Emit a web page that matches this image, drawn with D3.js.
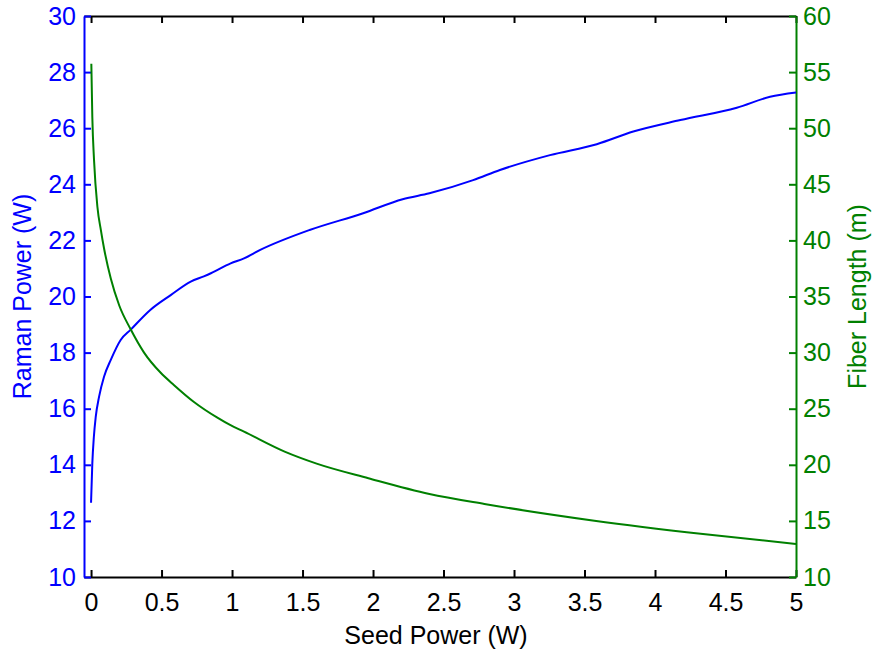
<!DOCTYPE html>
<html>
<head>
<meta charset="utf-8">
<script src="https://cdn.jsdelivr.net/npm/d3@7"></script>
<style>
  body { margin: 0; background: #fff; }
  text { font-family: "Liberation Sans", Arial, Helvetica, sans-serif; }
</style>
</head>
<body>
<svg id="chart" width="877" height="654"></svg>
<script>
// values
let seedRaman = [0.0, 0.009, 0.02, 0.033, 0.057, 0.092, 0.14, 0.21, 0.28, 0.42, 0.565, 0.707, 0.8, 0.85, 0.99, 1.085, 1.2, 1.55, 1.93, 2.21, 2.4, 2.71, 2.9, 3.255, 3.587, 3.846, 4.18, 4.58, 4.816, 5.0];
let ramanPower = [12.65, 14.05, 15.0, 15.7, 16.43, 17.14, 17.74, 18.45, 18.81, 19.52, 20.05, 20.53, 20.72, 20.83, 21.18, 21.36, 21.66, 22.37, 22.97, 23.47, 23.68, 24.15, 24.51, 25.04, 25.43, 25.88, 26.29, 26.73, 27.12, 27.27];

let seedFiber = [0.002, 0.009, 0.021, 0.045, 0.07, 0.092, 0.14, 0.2, 0.28, 0.376, 0.494, 0.589, 0.73, 0.896, 0.986, 1.085, 1.373, 1.6, 1.967, 2.4, 2.79, 3.57, 4.34, 5.0];
let fiberLength = [55.75, 51.0, 47.2, 43.0, 40.9, 39.3, 36.6, 34.2, 32.1, 30.0, 28.2, 27.1, 25.6, 24.2, 23.55, 22.95, 21.17, 20.1, 18.8, 17.4, 16.51, 15.02, 13.83, 12.95];

let xTicks = [0, 0.5, 1, 1.5, 2, 2.5, 3, 3.5, 4, 4.5, 5];
let leftTicks = [10, 12, 14, 16, 18, 20, 22, 24, 26, 28, 30];
let rightTicks = [10, 15, 20, 25, 30, 35, 40, 45, 50, 55, 60];

// layout
let margin = { top: 16, right: 81, bottom: 77, left: 84 };
let width = 877 - margin.left - margin.right;
let height = 654 - margin.top - margin.bottom;
let blue = '#0000ff';
let green = '#008000';
let fontSize = 25;
let tickLen = 7;

let svg = d3.select('#chart');
let g = svg.append('g').attr('transform', 'translate(' + margin.left + ',' + margin.top + ')');

let x = d3.scaleLinear().domain([-0.05, 5]).range([0, width]);
let yL = d3.scaleLinear().domain([10, 30]).range([height, 0]);
let yR = d3.scaleLinear().domain([10, 60]).range([height, 0]);

function styleAxis(sel, color) {
    sel.select('.domain').attr('stroke', color).attr('stroke-width', 2);
    sel.selectAll('.tick line').attr('stroke', color).attr('stroke-width', 2);
    sel.selectAll('.tick text')
        .attr('fill', color)
        .style('font-size', fontSize + 'px');
}

// x axis bottom
let xb = g.append('g').attr('transform', 'translate(0,' + height + ')')
    .call(d3.axisBottom(x).tickValues(xTicks).tickFormat(d3.format('')).tickSizeInner(-tickLen).tickSizeOuter(0));
styleAxis(xb, '#000');
xb.selectAll('.tick text').attr('dy', '0.71em').attr('y', 16);

// x axis top (ticks only)
let xt = g.append('g')
    .call(d3.axisTop(x).tickValues(xTicks).tickFormat('').tickSizeInner(-tickLen).tickSizeOuter(0));
styleAxis(xt, '#000');

// left y axis
let yl = g.append('g')
    .call(d3.axisLeft(yL).tickValues(leftTicks).tickSizeInner(-tickLen).tickSizeOuter(0).tickPadding(8));
styleAxis(yl, blue);

// right y axis
let yr = g.append('g').attr('transform', 'translate(' + width + ',0)')
    .call(d3.axisRight(yR).tickValues(rightTicks).tickSizeInner(-tickLen).tickSizeOuter(0).tickPadding(7));
styleAxis(yr, green);

// lines
let raman = seedRaman.map((s, i) => [s, ramanPower[i]]);
let fiber = seedFiber.map((s, i) => [s, fiberLength[i]]);

g.append('path')
    .datum(raman)
    .attr('fill', 'none')
    .attr('stroke', blue)
    .attr('stroke-width', 2)
    .attr('d', d3.line().x(d => x(d[0])).y(d => yL(d[1])).curve(d3.curveMonotoneX));

g.append('path')
    .datum(fiber)
    .attr('fill', 'none')
    .attr('stroke', green)
    .attr('stroke-width', 2)
    .attr('d', d3.line().x(d => x(d[0])).y(d => yR(d[1])).curve(d3.curveMonotoneX));

// axis labels
svg.append('text')
    .attr('x', margin.left + width / 2 - 4)
    .attr('y', 644)
    .attr('text-anchor', 'middle')
    .style('font-size', fontSize + 'px')
    .attr('fill', '#000')
    .text('Seed Power (W)');

svg.append('text')
    .attr('transform', 'translate(31,' + (margin.top + height / 2) + ') rotate(-90)')
    .attr('text-anchor', 'middle')
    .style('font-size', fontSize + 'px')
    .attr('fill', blue)
    .text('Raman Power (W)');

svg.append('text')
    .attr('transform', 'translate(866,' + (margin.top + height / 2) + ') rotate(-90)')
    .attr('text-anchor', 'middle')
    .style('font-size', fontSize + 'px')
    .attr('fill', green)
    .text('Fiber Length (m)');
</script>
</body>
</html>
